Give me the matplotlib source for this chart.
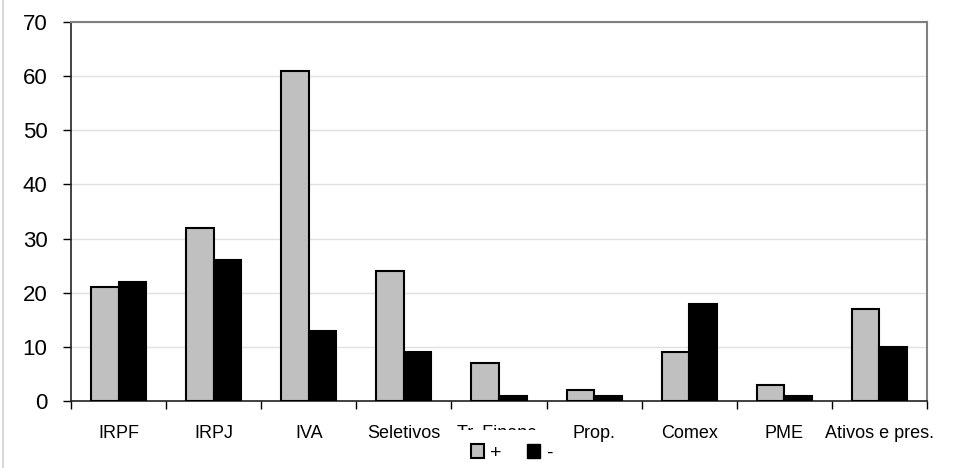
import matplotlib
matplotlib.use("Agg")
import matplotlib.pyplot as plt
import numpy as np
from matplotlib.patches import Patch, Rectangle
from matplotlib.lines import Line2D

categories = ["IRPF", "IRPJ", "IVA", "Seletivos", "Tr. Financ.", "Prop.", "Comex", "PME", "Ativos e pres."]
plus_vals = [21, 32, 61, 24, 7, 2, 9, 3, 17]
minus_vals = [22, 26, 13, 9, 1, 1, 18, 1, 10]
yticks = [0, 10, 20, 30, 40, 50, 60, 70]

plt.rcParams['font.family'] = ['Liberation Sans', 'DejaVu Sans']

fig = plt.figure(figsize=(9.6, 4.68), dpi=100)
ax = fig.add_axes([0.074, 0.143, 0.8916, 0.81])

x = np.arange(len(categories))
w = 0.29
ax.bar(x - w/2, plus_vals, w, color='#c0c0c0', edgecolor='black', linewidth=1.5, zorder=3, label='+')
ax.bar(x + w/2, minus_vals, w, color='black', edgecolor='black', linewidth=1.5, zorder=3, label='-')

ax.set_xlim(-0.5, len(categories) - 0.5)
ax.set_ylim(0, 70)
ax.set_yticks(yticks)
ax.tick_params(axis='y', labelsize=16, length=6, width=1, direction='out', pad=11)
ax.yaxis.grid(True, color='#e0e0e0', linewidth=1, zorder=0)

ax.set_xticks(np.arange(len(categories) + 1) - 0.5)
ax.set_xticklabels([])
ax.tick_params(axis='x', length=6, width=1, direction='out')
for i, c in enumerate(categories):
    ax.annotate(c, xy=(i, 0), xycoords=('data', 'axes fraction'), xytext=(0, -17),
                textcoords='offset points', ha='center', va='top', fontsize=13,
                annotation_clip=False, zorder=1)

for s in ['left', 'bottom']:
    ax.spines[s].set_color('#222222')
    ax.spines[s].set_linewidth(1.2)
for s in ['top', 'right']:
    ax.spines[s].set_color('#808080')
    ax.spines[s].set_linewidth(1.5)

# white legend area that overlaps the labels beneath it
fig.add_artist(Rectangle((448/960, 0), (565-448)/960, 1 - 430/468, transform=fig.transFigure,
                         facecolor='white', edgecolor='none', zorder=5))

handles = [Patch(facecolor='#c0c0c0', edgecolor='black', linewidth=1.5, label='+'),
           Patch(facecolor='black', edgecolor='black', label='-')]
leg = fig.legend(handles=handles, loc='center', bbox_to_anchor=(0.533, 1 - 453/468), ncol=2,
                 frameon=False, fontsize=14, handlelength=0.7, handleheight=0.7,
                 handletextpad=0.3, columnspacing=1.3, borderpad=0.15)
leg.set_zorder(10)

fig.add_artist(Line2D([0.003, 0.003], [0, 1], color='#d8d8d8', linewidth=1.5, transform=fig.transFigure))

fig.savefig("out.png", dpi=100)
